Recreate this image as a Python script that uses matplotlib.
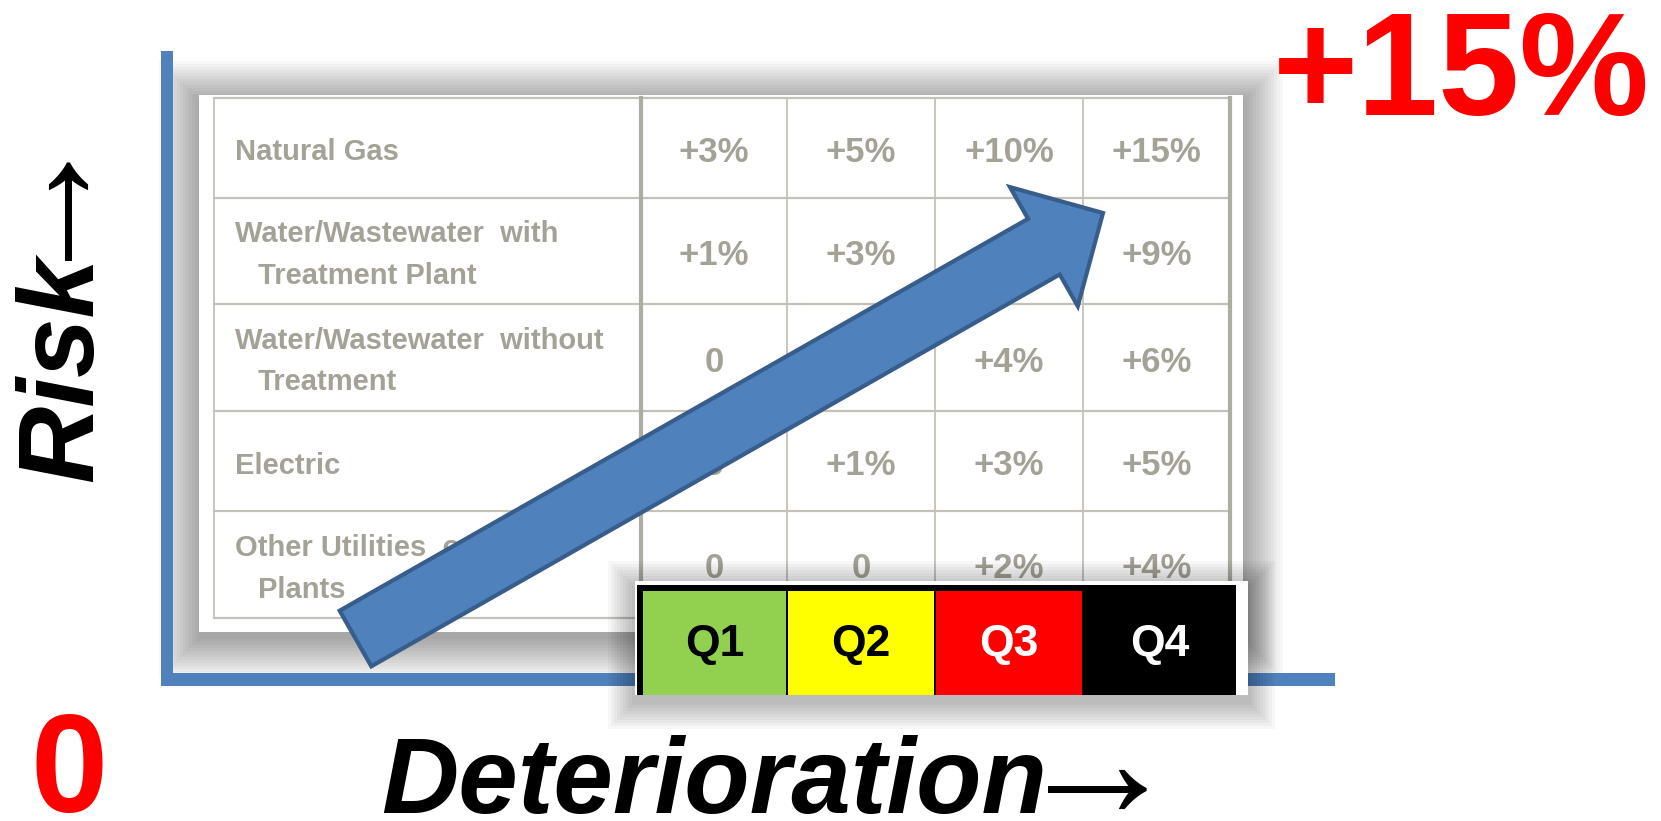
import numpy as np
import matplotlib
matplotlib.use("Agg")
import matplotlib.pyplot as plt
from matplotlib.patches import Rectangle, FancyArrow

# ---- chart content ----
row_labels = [
    ["Natural Gas"],
    ["Water/Wastewater  with", "Treatment Plant"],
    ["Water/Wastewater  without", "Treatment"],
    ["Electric"],
    ["Other Utilities  or  Power", "Plants"],
]
risk_values = [
    ["+3%", "+5%", "+10%", "+15%"],
    ["+1%", "+3%", "+6%", "+9%"],
    ["0", "+2%", "+4%", "+6%"],
    ["0", "+1%", "+3%", "+5%"],
    ["0", "0", "+2%", "+4%"],
]
quartiles = ["Q1", "Q2", "Q3", "Q4"]
quartile_colors = ["#92d050", "#ffff00", "#ff0000", "#000000"]
quartile_text = ["black", "black", "white", "white"]

top_value = "+15%"
bottom_value = "0"
x_label = "Deterioration"
y_label = "Risk"
arrow_char = "\u2192"

# ---- layout (pixels) ----
W, H = 1661, 821
col_edges = [214, 641, 787, 935, 1083, 1230]
row_edges = [98, 198, 304, 411, 511, 618]
q_top, q_bottom = 591, 695

BLUE = "#4f81bd"
BLUE_EDGE = "#385d8a"
GRID = "#c4c2b8"
TXT = "#a4a296"
SANS = ["Liberation Sans", "DejaVu Sans"]


def soft_shadow(ax, x0, y0, x1, y1, spread=40, step=3, alpha=0.026, dy=6, z=1):
    for s in range(spread, 0, -step):
        ax.add_patch(Rectangle((x0 - s, y0 - s + dy), (x1 - x0) + 2 * s,
                               (y1 - y0) + 2 * s, facecolor="black",
                               edgecolor="none", alpha=alpha, zorder=z))


fig = plt.figure(figsize=(W / 100, H / 100), dpi=100)
ax = fig.add_axes([0, 0, 1, 1])
ax.set_xlim(0, W)
ax.set_ylim(H, 0)
ax.axis("off")

# table panel with shadow
soft_shadow(ax, 199, 95, 1243, 632, z=1)
ax.add_patch(Rectangle((199, 95), 1243 - 199, 632 - 95, facecolor="white",
                       edgecolor="none", zorder=2))

# axis lines
ax.add_patch(Rectangle((161, 51), 12, 686 - 51, facecolor=BLUE, edgecolor="none", zorder=3))
ax.add_patch(Rectangle((161, 673), 1335 - 161, 13, facecolor=BLUE, edgecolor="none", zorder=3))

# grid
for y in row_edges:
    ax.plot([col_edges[0], col_edges[-1]], [y, y], color=GRID, lw=1.6, zorder=3)
for i, x in enumerate(col_edges):
    thick = i in (1, len(col_edges) - 1)
    ax.plot([x, x], [row_edges[0], row_edges[-1]], color="#aeada2" if thick else GRID,
            lw=3.0 if thick else 1.3, zorder=3)

# row labels
for r, lines in enumerate(row_labels):
    yc = (row_edges[r] + row_edges[r + 1]) / 2
    ys = [yc + 1.5] if len(lines) == 1 else [yc - 19.5, yc + 22]
    for k, (line, y) in enumerate(zip(lines, ys)):
        ax.text(235 if k == 0 else 258, y + 11, line, ha="left", va="baseline",
                fontsize=21, fontweight="bold", color=TXT, family=SANS, zorder=4)

# values
for r, vals in enumerate(risk_values):
    yc = (row_edges[r] + row_edges[r + 1]) / 2 + 1
    for c, v in enumerate(vals):
        xc = (col_edges[c + 1] + col_edges[c + 2]) / 2
        ax.text(xc, yc + 13, v, ha="center", va="baseline", fontsize=25,
                fontweight="bold", color=TXT, family=SANS, zorder=4)

# quartile strip
soft_shadow(ax, 635, 581, 1248, 695, spread=27, alpha=0.03, dy=7, z=5)
ax.add_patch(Rectangle((635, 581), 1248 - 635, 695 - 581, facecolor="white",
                       edgecolor="none", zorder=6))
ax.add_patch(Rectangle((637, 585), 1236 - 637, 695 - 585, facecolor="black",
                       edgecolor="none", zorder=7))
q_edges = [642] + col_edges[2:-1] + [1236]
for i, (q, fc, tc) in enumerate(zip(quartiles, quartile_colors, quartile_text)):
    x0, x1 = q_edges[i], q_edges[i + 1]
    ax.add_patch(Rectangle((x0 + 0.8, q_top), x1 - x0 - 1.6, q_bottom - q_top,
                           facecolor=fc, edgecolor="none", zorder=8))
    ax.text((x0 + x1) / 2, 656, q, ha="center", va="baseline", fontsize=32,
            fontweight="bold", color=tc, family=SANS, zorder=9)

# trend arrow
tail = np.array([355.5, 638.5])
tip = np.array([1103.0, 213.0])
ax.add_patch(FancyArrow(tail[0], tail[1], tip[0] - tail[0], tip[1] - tail[1],
                        width=64, head_width=137, head_length=68,
                        length_includes_head=True, facecolor=BLUE,
                        edgecolor=BLUE_EDGE, lw=3, joinstyle="miter", zorder=10))

# big annotations
ax.text(1461, 115, top_value, ha="center", va="baseline", fontsize=105,
        fontweight="bold", color="#ff0000", family=SANS, zorder=11)
ax.text(69.5, 812, bottom_value, ha="center", va="baseline", fontsize=100,
        fontweight="bold", color="#ff0000", family=SANS, zorder=11)
ax.text(381, 813, x_label, ha="left", va="baseline", fontsize=77,
        fontweight="bold", fontstyle="italic", color="black", family=SANS, zorder=11)
ax.text(1097, 774, arrow_char, ha="center", va="center", fontsize=120,
        color="black", family=SANS, zorder=11)
ax.text(92, 482, y_label, ha="left", va="baseline", rotation=90,
        rotation_mode="anchor", fontsize=77, fontweight="bold",
        fontstyle="italic", color="black", family=SANS, zorder=11)
ax.text(20, 177, arrow_char, ha="center", va="center", rotation=90,
        fontsize=120, color="black", family=SANS, zorder=11)

fig.savefig("out.png", dpi=100, facecolor="white")
